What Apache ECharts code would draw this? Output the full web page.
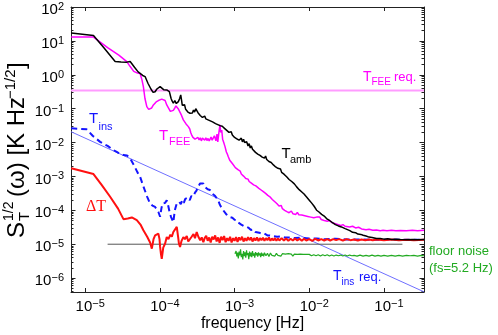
<!DOCTYPE html>
<html><head><meta charset="utf-8">
<script src="https://cdn.jsdelivr.net/npm/echarts@6/dist/echarts.min.js"></script>
<style>html,body{margin:0;padding:0;background:#fff}#c{width:498px;height:335px}</style>
</head><body><div id="c"></div>
<script>
// All values are [log10(frequency / Hz), log10(S_T^{1/2} / K Hz^-1/2)]
const xTickVals = [-5, -4, -3, -2, -1];
const yTickVals = [-6, -5, -4, -3, -2, -1, 0, 1, 2];
const xMin = -5.19, xMax = -0.464, yMin = -6.41, yMax = 2;

const tambData = [
[-5.187,1.231],[-4.889,1.16],[-4.75,0.8],[-4.599,0.391],[-4.52,0.38],[-4.443,0.373],[-4.398,0.391],[-4.34,0.22],[-4.291,0.086],[-4.265,0.047],[-4.23,-0.02],[-4.198,-0.053],[-4.16,-0.25],[-4.12,-0.42],[-4.091,-0.52],[-4.075,-0.47],[-4.064,-0.5],[-4.04,-0.42],[-4.02,-0.38],[-3.997,-0.349],[-3.975,-0.4],[-3.95,-0.44],[-3.93,-0.4],[-3.908,-0.447],[-3.89,-0.49],[-3.873,-0.497],[-3.85,-0.7],[-3.835,-0.78],[-3.82,-0.84],[-3.8,-0.76],[-3.78,-0.85],[-3.763,-0.8],[-3.753,-0.793],[-3.735,-0.7],[-3.721,-0.595],[-3.71,-0.75],[-3.7,-0.9],[-3.686,-0.941],[-3.67,-0.88],[-3.655,-1.02],[-3.64,-0.97],[-3.625,-1.1],[-3.61,-1.05],[-3.596,-1.136],[-3.58,-1.08],[-3.565,-1.13],[-3.55,-1.04],[-3.535,-1.1],[-3.52,-1.0],[-3.507,-1.038],[-3.49,-1.12],[-3.475,-1.09],[-3.46,-1.2],[-3.445,-1.15],[-3.43,-1.26],[-3.418,-1.284],[-3.4,-1.22],[-3.385,-1.3],[-3.37,-1.25],[-3.355,-1.33],[-3.34,-1.29],[-3.325,-1.36],[-3.31,-1.31],[-3.295,-1.39],[-3.285,-1.385],[-3.27,-1.36],[-3.255,-1.44],[-3.24,-1.4],[-3.225,-1.47],[-3.21,-1.43],[-3.195,-1.5],[-3.18,-1.45],[-3.165,-1.52],[-3.151,-1.533],[-3.135,-1.58],[-3.12,-1.55],[-3.105,-1.64],[-3.09,-1.6],[-3.075,-1.7],[-3.061,-1.728],[-3.045,-1.68],[-3.03,-1.78],[-3.015,-1.74],[-3.0,-1.85],[-2.985,-1.8],[-2.97,-1.89],[-2.955,-1.84],[-2.94,-1.93],[-2.928,-1.926],[-2.91,-1.87],[-2.895,-1.98],[-2.88,-1.9],[-2.865,-2.0],[-2.85,-1.95],[-2.838,-1.976],[-2.82,-2.1],[-2.805,-2.03],[-2.79,-2.16],[-2.775,-2.1],[-2.76,-2.2],[-2.75,-2.222],[-2.735,-2.17],[-2.72,-2.29],[-2.705,-2.24],[-2.69,-2.34],[-2.675,-2.3],[-2.66,-2.38],[-2.645,-2.33],[-2.63,-2.43],[-2.616,-2.42],[-2.6,-2.46],[-2.585,-2.4],[-2.57,-2.5],[-2.555,-2.46],[-2.54,-2.56],[-2.527,-2.518],[-2.51,-2.59],[-2.495,-2.55],[-2.48,-2.66],[-2.465,-2.61],[-2.45,-2.72],[-2.437,-2.716],[-2.42,-2.76],[-2.4,-2.8],[-2.385,-2.78],[-2.37,-2.88],[-2.35,-2.86],[-2.335,-2.94],[-2.32,-2.92],[-2.303,-3.012],[-2.285,-3.0],[-2.27,-3.09],[-2.25,-3.06],[-2.235,-3.15],[-2.22,-3.13],[-2.2,-3.22],[-2.185,-3.21],[-2.169,-3.308],[-2.15,-3.3],[-2.135,-3.39],[-2.12,-3.36],[-2.1,-3.46],[-2.085,-3.44],[-2.07,-3.52],[-2.05,-3.52],[-2.036,-3.604],[-2.02,-3.6],[-2.0,-3.7],[-1.985,-3.68],[-1.97,-3.78],[-1.95,-3.8],[-1.935,-3.88],[-1.92,-3.87],[-1.902,-3.997],[-1.885,-3.96],[-1.87,-4.05],[-1.85,-4.04],[-1.835,-4.12],[-1.815,-4.1],[-1.8,-4.17],[-1.785,-4.16],[-1.769,-4.243],[-1.75,-4.22],[-1.73,-4.3],[-1.71,-4.29],[-1.69,-4.36],[-1.67,-4.35],[-1.65,-4.42],[-1.635,-4.441],[-1.61,-4.46],[-1.59,-4.5],[-1.57,-4.49],[-1.55,-4.54],[-1.52,-4.54],[-1.5,-4.59],[-1.457,-4.6],[-1.42,-4.65],[-1.38,-4.66],[-1.35,-4.7],[-1.31,-4.71],[-1.279,-4.737],[-1.24,-4.76],[-1.2,-4.79],[-1.16,-4.8],[-1.1,-4.834],[-1.05,-4.83],[-1.0,-4.85],[-0.95,-4.84],[-0.9,-4.86],[-0.833,-4.855],[-0.78,-4.86],[-0.7,-4.865],[-0.62,-4.86],[-0.55,-4.865],[-0.464,-4.864]
];

const tfeeData = [
[-5.187,1.112],[-4.889,1.112],[-4.7,0.8],[-4.55,0.58],[-4.443,0.39],[-4.4,0.25],[-4.35,0.1],[-4.3,0.05],[-4.265,0.04],[-4.24,-0.15],[-4.221,-0.35],[-4.2,-0.7],[-4.175,-0.94],[-4.15,-1.02],[-4.131,-1.04],[-4.11,-0.98],[-4.087,-0.89],[-4.05,-0.8],[-4.02,-0.76],[-3.997,-0.74],[-3.975,-0.72],[-3.953,-0.69],[-3.93,-0.76],[-3.908,-0.89],[-3.88,-1.0],[-3.86,-1.08],[-3.841,-1.136],[-3.82,-1.05],[-3.8,-0.98],[-3.785,-0.92],[-3.774,-0.94],[-3.755,-1.0],[-3.74,-0.98],[-3.73,-1.04],[-3.71,-1.2],[-3.686,-1.33],[-3.665,-1.38],[-3.65,-1.45],[-3.635,-1.48],[-3.619,-1.53],[-3.6,-1.6],[-3.585,-1.72],[-3.573,-1.78],[-3.56,-1.84],[-3.545,-1.8],[-3.53,-1.9],[-3.515,-1.86],[-3.507,-1.93],[-3.49,-1.85],[-3.475,-1.92],[-3.46,-1.86],[-3.445,-1.95],[-3.43,-1.87],[-3.418,-1.88],[-3.4,-1.93],[-3.385,-1.86],[-3.37,-1.94],[-3.355,-1.88],[-3.34,-1.95],[-3.329,-1.9],[-3.315,-1.84],[-3.3,-1.93],[-3.285,-1.86],[-3.27,-1.8],[-3.262,-1.83],[-3.25,-1.95],[-3.235,-1.75],[-3.225,-1.98],[-3.218,-1.93],[-3.205,-1.62],[-3.195,-1.48],[-3.185,-1.7],[-3.172,-1.63],[-3.16,-1.9],[-3.145,-2.0],[-3.128,-2.12],[-3.11,-2.28],[-3.095,-2.35],[-3.084,-2.42],[-3.065,-2.52],[-3.05,-2.55],[-3.03,-2.62],[-3.01,-2.66],[-2.99,-2.74],[-2.972,-2.76],[-2.955,-2.8],[-2.94,-2.85],[-2.925,-2.84],[-2.91,-2.93],[-2.895,-2.91],[-2.88,-2.99],[-2.865,-2.97],[-2.85,-3.06],[-2.838,-3.11],[-2.82,-3.08],[-2.805,-3.15],[-2.79,-3.12],[-2.775,-3.2],[-2.76,-3.17],[-2.745,-3.25],[-2.73,-3.21],[-2.715,-3.28],[-2.704,-3.31],[-2.69,-3.27],[-2.675,-3.35],[-2.66,-3.32],[-2.645,-3.4],[-2.63,-3.37],[-2.615,-3.45],[-2.6,-3.42],[-2.585,-3.5],[-2.57,-3.47],[-2.555,-3.56],[-2.54,-3.54],[-2.527,-3.6],[-2.51,-3.6],[-2.495,-3.68],[-2.48,-3.66],[-2.465,-3.74],[-2.45,-3.72],[-2.435,-3.8],[-2.42,-3.79],[-2.405,-3.87],[-2.393,-3.9],[-2.375,-3.86],[-2.36,-3.95],[-2.345,-3.92],[-2.33,-4.0],[-2.315,-3.96],[-2.3,-4.04],[-2.285,-4.0],[-2.27,-4.07],[-2.259,-4.05],[-2.24,-4.02],[-2.22,-4.1],[-2.2,-4.05],[-2.18,-4.12],[-2.16,-4.06],[-2.14,-4.13],[-2.12,-4.08],[-2.1,-4.14],[-2.082,-4.1],[-2.06,-4.16],[-2.04,-4.11],[-2.02,-4.18],[-2.0,-4.13],[-1.98,-4.2],[-1.96,-4.15],[-1.94,-4.22],[-1.92,-4.17],[-1.902,-4.2],[-1.88,-4.24],[-1.86,-4.2],[-1.84,-4.27],[-1.82,-4.23],[-1.8,-4.3],[-1.78,-4.26],[-1.76,-4.32],[-1.74,-4.28],[-1.725,-4.3],[-1.7,-4.36],[-1.68,-4.32],[-1.66,-4.39],[-1.64,-4.36],[-1.62,-4.42],[-1.6,-4.39],[-1.58,-4.45],[-1.55,-4.42],[-1.52,-4.47],[-1.5,-4.44],[-1.46,-4.49],[-1.42,-4.47],[-1.38,-4.52],[-1.34,-4.5],[-1.3,-4.55],[-1.279,-4.54],[-1.24,-4.57],[-1.2,-4.56],[-1.15,-4.59],[-1.1,-4.58],[-1.05,-4.6],[-1.012,-4.59],[-0.96,-4.6],[-0.9,-4.59],[-0.84,-4.6],[-0.78,-4.595],[-0.7,-4.6],[-0.62,-4.59],[-0.55,-4.6],[-0.464,-4.59]
];

const tinsData = [
[-5.187,-1.58],[-4.98,-1.61],[-4.9,-1.8],[-4.8,-1.98],[-4.7,-2.1],[-4.622,-2.22],[-4.56,-2.3],[-4.488,-2.37],[-4.44,-2.38],[-4.398,-2.47],[-4.34,-2.7],[-4.3,-2.88],[-4.265,-3.01],[-4.22,-3.3],[-4.17,-3.6],[-4.131,-3.8],[-4.1,-3.86],[-4.064,-3.9],[-4.04,-3.95],[-4.02,-4.05],[-3.997,-4.19],[-3.98,-3.95],[-3.965,-3.8],[-3.953,-3.75],[-3.93,-3.78],[-3.908,-3.7],[-3.89,-3.85],[-3.87,-4.05],[-3.85,-4.2],[-3.82,-4.35],[-3.8,-4.0],[-3.785,-3.88],[-3.774,-3.8],[-3.76,-3.85],[-3.74,-3.75],[-3.72,-3.82],[-3.7,-3.7],[-3.68,-3.78],[-3.66,-3.66],[-3.64,-3.7],[-3.62,-3.62],[-3.6,-3.7],[-3.58,-3.58],[-3.552,-3.6],[-3.53,-3.48],[-3.51,-3.42],[-3.49,-3.32],[-3.463,-3.21],[-3.44,-3.25],[-3.418,-3.21],[-3.4,-3.3],[-3.38,-3.26],[-3.36,-3.38],[-3.329,-3.4],[-3.3,-3.5],[-3.28,-3.46],[-3.26,-3.58],[-3.239,-3.6],[-3.22,-3.7],[-3.2,-3.82],[-3.18,-3.9],[-3.151,-4.0],[-3.13,-4.02],[-3.11,-4.12],[-3.09,-4.1],[-3.06,-4.2],[-3.03,-4.22],[-3.0,-4.28],[-2.972,-4.29],[-2.95,-4.36],[-2.93,-4.34],[-2.91,-4.42],[-2.89,-4.4],[-2.87,-4.47],[-2.838,-4.49],[-2.81,-4.52],[-2.78,-4.58],[-2.75,-4.56],[-2.72,-4.64],[-2.704,-4.64],[-2.67,-4.66],[-2.63,-4.7],[-2.6,-4.69],[-2.56,-4.74],[-2.527,-4.74],[-2.48,-4.76],[-2.43,-4.78],[-2.38,-4.77],[-2.33,-4.8],[-2.259,-4.8],[-2.2,-4.82],[-2.1,-4.81],[-2.0,-4.83],[-1.902,-4.83],[-1.8,-4.85],[-1.65,-4.84],[-1.5,-4.86],[-1.279,-4.86],[-1.1,-4.87],[-0.9,-4.86],[-0.7,-4.87],[-0.464,-4.87]
];

const deltaTData = [
[-5.187,-2.76],[-4.889,-2.93],[-4.78,-3.25],[-4.666,-3.6],[-4.56,-3.95],[-4.488,-4.26],[-4.43,-4.24],[-4.376,-4.21],[-4.309,-4.29],[-4.26,-4.42],[-4.221,-4.59],[-4.17,-4.78],[-4.131,-4.95],[-4.108,-5.13],[-4.085,-4.85],[-4.064,-4.74],[-4.04,-4.7],[-4.02,-4.69],[-4.005,-4.85],[-3.997,-5.08],[-3.985,-5.3],[-3.975,-5.43],[-3.955,-5.1],[-3.93,-4.98],[-3.908,-4.79],[-3.885,-4.85],[-3.86,-4.72],[-3.84,-4.78],[-3.82,-4.64],[-3.8,-4.6],[-3.774,-4.49],[-3.755,-4.8],[-3.745,-4.98],[-3.73,-5.08],[-3.71,-4.9],[-3.686,-4.79],[-3.665,-4.85],[-3.64,-4.76],[-3.62,-4.92],[-3.596,-4.88],[-3.575,-4.78],[-3.55,-4.7],[-3.53,-4.82],[-3.507,-4.64],[-3.485,-4.78],[-3.46,-4.88],[-3.44,-4.8],[-3.418,-4.94],[-3.4,-4.82],[-3.38,-4.75],[-3.36,-4.9],[-3.34,-4.8],[-3.32,-4.95],[-3.3,-4.78],[-3.28,-4.86],[-3.26,-4.74],[-3.24,-4.92],[-3.22,-4.8],[-3.2,-4.96],[-3.18,-4.78],[-3.16,-4.88],[-3.14,-4.76],[-3.12,-4.94],[-3.1,-4.82],[-3.08,-4.9],[-3.06,-4.78],[-3.04,-4.95],[-3.02,-4.82],[-3.0,-4.9],[-2.98,-4.79],[-2.96,-4.93],[-2.94,-4.8],[-2.92,-4.88],[-2.9,-4.78],[-2.88,-4.92],[-2.86,-4.82],[-2.84,-4.9],[-2.82,-4.79],[-2.8,-4.88],[-2.78,-4.8],[-2.76,-4.92],[-2.74,-4.82],[-2.72,-4.89],[-2.7,-4.8],[-2.68,-4.91],[-2.66,-4.82],[-2.64,-4.88],[-2.62,-4.81],[-2.6,-4.9],[-2.58,-4.82],[-2.56,-4.88],[-2.54,-4.8],[-2.52,-4.9],[-2.5,-4.83],[-2.48,-4.89],[-2.46,-4.82],[-2.44,-4.9],[-2.42,-4.83],[-2.4,-4.89],[-2.37,-4.82],[-2.34,-4.89],[-2.31,-4.83],[-2.28,-4.9],[-2.25,-4.84],[-2.22,-4.89],[-2.19,-4.83],[-2.16,-4.89],[-2.13,-4.84],[-2.1,-4.9],[-2.07,-4.84],[-2.04,-4.89],[-2.0,-4.85],[-1.96,-4.9],[-1.92,-4.84],[-1.88,-4.89],[-1.84,-4.85],[-1.8,-4.89],[-1.76,-4.85],[-1.72,-4.89],[-1.68,-4.85],[-1.64,-4.88],[-1.6,-4.85],[-1.55,-4.89],[-1.5,-4.85],[-1.45,-4.88],[-1.4,-4.86],[-1.35,-4.89],[-1.3,-4.86],[-1.25,-4.88],[-1.2,-4.86],[-1.15,-4.88],[-1.1,-4.86],[-1.0,-4.88],[-0.9,-4.86],[-0.8,-4.88],[-0.7,-4.87],[-0.6,-4.88],[-0.464,-4.87]
];

const floorData = [
[-2.995,-5.28],[-2.98,-5.2],[-2.97,-5.36],[-2.96,-5.25],[-2.95,-5.42],[-2.94,-5.22],[-2.93,-5.33],[-2.92,-5.15],[-2.91,-5.38],[-2.9,-5.28],[-2.89,-5.45],[-2.88,-5.2],[-2.87,-5.35],[-2.86,-5.24],[-2.85,-5.4],[-2.84,-5.18],[-2.83,-5.32],[-2.82,-5.26],[-2.81,-5.44],[-2.8,-5.22],[-2.79,-5.36],[-2.78,-5.25],[-2.77,-5.38],[-2.76,-5.2],[-2.75,-5.34],[-2.74,-5.27],[-2.73,-5.4],[-2.72,-5.23],[-2.71,-5.33],[-2.7,-5.26],[-2.69,-5.37],[-2.68,-5.24],[-2.67,-5.33],[-2.66,-5.27],[-2.65,-5.38],[-2.64,-5.25],[-2.63,-5.34],[-2.62,-5.28],[-2.61,-5.36],[-2.6,-5.25],[-2.58,-5.34],[-2.56,-5.27],[-2.54,-5.36],[-2.52,-5.26],[-2.5,-5.33],[-2.48,-5.28],[-2.46,-5.35],[-2.44,-5.27],[-2.42,-5.33],[-2.4,-5.29],[-2.38,-5.35],[-2.36,-5.28],[-2.34,-5.33],[-2.32,-5.29],[-2.3,-5.34],[-2.28,-5.28],[-2.26,-5.33],[-2.24,-5.29],[-2.22,-5.35],[-2.2,-5.29],[-2.18,-5.33],[-2.16,-5.3],[-2.14,-5.34],[-2.12,-5.29],[-2.1,-5.33],[-2.08,-5.3],[-2.06,-5.35],[-2.04,-5.3],[-2.02,-5.33],[-2.0,-5.3],[-1.97,-5.34],[-1.94,-5.31],[-1.91,-5.34],[-1.88,-5.31],[-1.85,-5.35],[-1.82,-5.31],[-1.79,-5.34],[-1.76,-5.31],[-1.73,-5.35],[-1.7,-5.32],[-1.67,-5.35],[-1.64,-5.32],[-1.61,-5.34],[-1.58,-5.32],[-1.55,-5.35],[-1.52,-5.32],[-1.49,-5.35],[-1.46,-5.32],[-1.43,-5.34],[-1.4,-5.33],[-1.36,-5.35],[-1.32,-5.32],[-1.28,-5.35],[-1.24,-5.33],[-1.2,-5.35],[-1.16,-5.32],[-1.12,-5.35],[-1.08,-5.33],[-1.04,-5.35],[-1.0,-5.33],[-0.95,-5.35],[-0.9,-5.33],[-0.85,-5.35],[-0.8,-5.33],[-0.75,-5.35],[-0.7,-5.33],[-0.65,-5.34],[-0.6,-5.33],[-0.55,-5.35],[-0.5,-5.33],[-0.464,-5.34]
];

const tfeeReqData = [[-5.19, -0.467], [-0.464, -0.467]];
const tinsReqData = [[-5.19, -1.68], [-0.464, -6.405]];
const floorRefData = [[-4.70, -5.0], [-0.753, -5.0]];

const FONT = 'Liberation Sans';
const yMinor = [];
for (let n = -7; n < 2; n++) for (let k = 2; k < 10; k++) {
  const v = n + Math.log10(k);
  if (v > yMin && v < yMax) yMinor.push(v);
}
function expLabel(v) {
  const e = Math.round(v);
  return '{b|10}{s|' + (e < 0 ? '\u2212' + (-e) : String(e)) + '}';
}
const rich = {
  b: { fontSize: 15, fontFamily: FONT, color: '#000', lineHeight: 16, verticalAlign: 'bottom' },
  s: { fontSize: 11, fontFamily: FONT, color: '#000', lineHeight: 7, verticalAlign: 'top' }
};
const axColor = '#222';
function xAx(pos, labels) {
  return {
    type: 'value', min: xMin, max: xMax, position: pos,
    axisLine: { show: true, onZero: false, lineStyle: { color: axColor, width: 1 } },
    axisTick: { show: true, inside: true, length: 4, customValues: xTickVals, lineStyle: { color: axColor } },
    axisLabel: labels ? { show: true, customValues: xTickVals, formatter: expLabel, rich: rich, margin: 1, padding: [5, 0, 0, 10] } : { show: false },
    splitLine: { show: false }
  };
}
function yAx(pos, labels, minor) {
  return {
    type: 'value', min: yMin, max: yMax, position: pos,
    axisLine: { show: !minor, onZero: false, lineStyle: { color: axColor, width: 1 } },
    axisTick: { show: true, inside: true, length: minor ? 2.5 : 4.5, customValues: minor ? yMinor : yTickVals, lineStyle: { color: axColor } },
    axisLabel: labels ? { show: true, customValues: yTickVals, formatter: expLabel, rich: rich, margin: 7, padding: [5, 0, 0, 0] } : { show: false },
    splitLine: { show: false }
  };
}
function line(data, color, width, extra) {
  return Object.assign({
    type: 'line', data: data, xAxisIndex: 0, yAxisIndex: 0, showSymbol: false, symbol: 'none',
    lineStyle: { color: color, width: width }, silent: true, animation: false, z: 2
  }, extra || {});
}
function txt(x, y, text, size, color, family) {
  return { type: 'text', x: x, y: y, silent: true, style: {
    text: text, fontSize: size, fontFamily: family || FONT, fill: color,
    textAlign: 'left', align: 'left', textVerticalAlign: 'middle', verticalAlign: 'middle' } };
}
const chart = echarts.init(document.getElementById('c'), null, { renderer: 'canvas' });
chart.setOption({
  backgroundColor: '#fff',
  animation: false,
  grid: { left: 71, right: 74, top: 7, bottom: 43, show: false },
  xAxis: [xAx('bottom', true), xAx('top', false)],
  yAxis: [yAx('left', true, false), yAx('left', false, true), yAx('right', false, false), yAx('right', false, true)],
  series: [
    line(tfeeReqData, '#ff9cff', 2),
    line(tinsReqData, '#6f6fff', 1),
    line(floorRefData, '#555555', 1),
    line(floorData, '#22aa22', 1.2),
    line(tinsData, '#1414ff', 2, { lineStyle: { color: '#1414ff', width: 2, type: [6, 4] } }),
    line(deltaTData, '#ff1010', 2),
    line(tfeeData, '#ff00ff', 1.5),
    line(tambData, '#000000', 1.5)
  ],
  graphic: [
    txt(363, 77, 'T', 14, '#ff00ff'), txt(371.5, 82, 'FEE', 10, '#ff00ff'), txt(394, 77.5, 'req.', 13, '#ff00ff'),
    txt(281.5, 154, 'T', 15, '#000'), txt(290, 160, 'amb', 11, '#000'),
    txt(159, 136, 'T', 15, '#ff00ff'), txt(169, 141.5, 'FEE', 11, '#ff00ff'),
    txt(89, 119, 'T', 15, '#1414ff'), txt(98.5, 126.5, 'ins', 11, '#1414ff'),
    txt(86, 207, '\u0394T', 16, '#ff1010', 'Liberation Serif'),
    txt(333, 276, 'T', 14, '#1414ff'), txt(341.5, 282, 'ins', 10, '#1414ff'), txt(359, 277, 'req.', 13, '#1414ff'),
    txt(429, 251, 'floor noise', 13, '#22aa22'),
    txt(429, 268, '(fs=5.2 Hz)', 13, '#22aa22'),
    { type: 'text', x: 252.5, y: 324, silent: true, style: { text: 'frequency [Hz]', fontSize: 16, fontFamily: FONT, fill: '#000',
      textAlign: 'center', align: 'center', textVerticalAlign: 'middle', verticalAlign: 'middle' } },
    { type: 'group', x: 17.5, y: 238, rotation: Math.PI / 2, silent: true, children: [
      txt(0, 0, 'S', 24, '#000'),
      txt(17, 7, 'T', 15, '#000'),
      txt(17, -8, '1/2', 14, '#000'),
      txt(41, 0, '(\u03c9) [K Hz', 24, '#000'),
      txt(139, -7, '\u22121/2', 15, '#000'),
      txt(169, 0, ']', 24, '#000')
    ] }
  ]
});
</script></body></html>
